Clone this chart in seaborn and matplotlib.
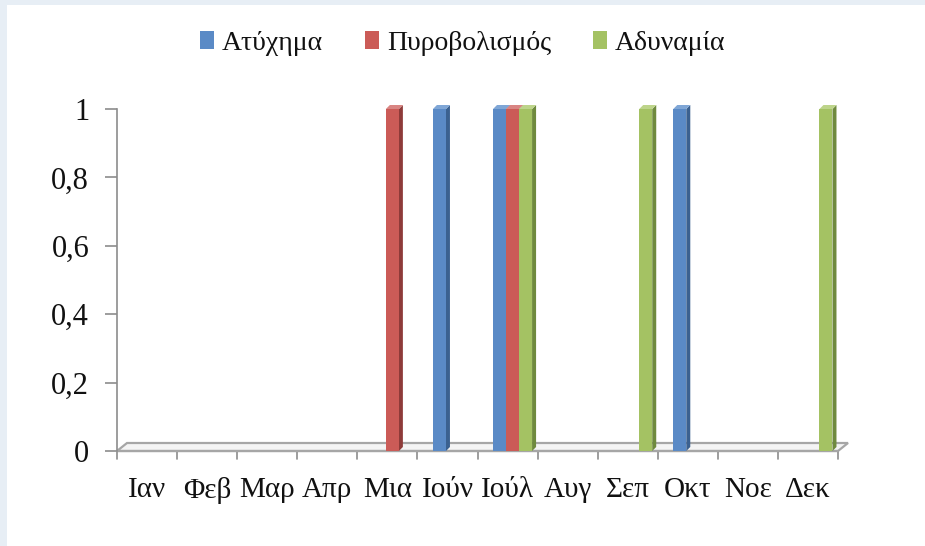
import matplotlib
matplotlib.use("Agg")
import matplotlib.pyplot as plt
from matplotlib.patches import Polygon, Rectangle
from matplotlib.ticker import FixedLocator, FuncFormatter
import seaborn as sns
import pandas as pd

# Monthly incident counts by cause
months = ["Ιαν", "Φεβ", "Μαρ", "Απρ", "Μια", "Ιούν", "Ιούλ", "Αυγ", "Σεπ", "Οκτ", "Νοε", "Δεκ"]
atyxima = [0, 0, 0, 0, 0, 1, 1, 0, 0, 1, 0, 0]
pyrovolismos = [0, 0, 0, 0, 1, 0, 1, 0, 0, 0, 0, 0]
adynamia = [0, 0, 0, 0, 0, 0, 1, 0, 1, 0, 0, 1]
series_names = ["Ατύχημα", "Πυροβολισμός", "Αδυναμία"]
y_ticks = [0, 0.2, 0.4, 0.6, 0.8, 1.0]

front_colors = ["#5A8AC6", "#CB5B57", "#A4C263"]
side_colors = ["#3B6190", "#8E3B39", "#6F8A3E"]
top_colors = ["#7FA6D6", "#D98583", "#BDD48A"]

df = pd.DataFrame({
    "month": months * 3,
    "cause": [s for s, vals in zip(series_names, [atyxima, pyrovolismos, adynamia]) for _ in vals],
    "value": atyxima + pyrovolismos + adynamia,
})

sns.set_style("white")
plt.rcParams["font.family"] = ["Liberation Serif", "DejaVu Serif"]

W, H = 925, 546
fig = plt.figure(figsize=(W / 100, H / 100), dpi=100)
fig.patch.set_facecolor("#E7EEF5")
# white sheet behind the chart
fig.add_artist(Rectangle((7 / W, 0), 1, 1 - 5 / H, transform=fig.transFigure,
                         facecolor="white", edgecolor="none", zorder=0))

ax_left, ax_right, ax_top, ax_bottom = 117, 838, 109, 451
ax = fig.add_axes([ax_left / W, 1 - ax_bottom / H, (ax_right - ax_left) / W, (ax_bottom - ax_top) / H])
ax.set_facecolor("none")

sns.barplot(data=df, x="month", y="value", hue="cause", hue_order=series_names,
            order=months, palette=front_colors, width=0.65, saturation=1,
            ax=ax, legend=False, edgecolor="none", linewidth=0, zorder=3)

ax.set_ylim(0, 1)
ax.set_xlim(-0.5, len(months) - 0.5)

# pseudo-3D depth, in data units
px_x = (len(months)) / (ax_right - ax_left)
px_y = 1.0 / (ax_bottom - ax_top)
dx, dy = 4 * px_x, 4 * px_y
shift = 5 * px_x

for i, container in enumerate(ax.containers):
    for bar in container:
        bar.set_x(bar.get_x() + shift)
        h = bar.get_height()
        if h <= 0:
            bar.set_visible(False)
            continue
        x0, w = bar.get_x(), bar.get_width()
        ax.add_patch(Polygon([(x0 + w, 0), (x0 + w + dx, dy), (x0 + w + dx, h + dy), (x0 + w, h)],
                             closed=True, facecolor=side_colors[i], edgecolor="none", zorder=2.8, clip_on=False))
        ax.add_patch(Polygon([(x0, h), (x0 + dx, h + dy), (x0 + w + dx, h + dy), (x0 + w, h)],
                             closed=True, facecolor=top_colors[i], edgecolor="none", zorder=2.9, clip_on=False))

# floor
fdx, fdy = 10 * px_x, 8 * px_y
x_lo, x_hi = -0.5, len(months) - 0.5
ax.add_patch(Polygon([(x_lo, 0), (x_lo + fdx, fdy), (x_hi + fdx, fdy), (x_hi, 0)], closed=True,
                     facecolor="#F4F4F4", edgecolor="#A6A6A6", linewidth=1.6, zorder=2, clip_on=False))

for side in ["top", "right", "bottom"]:
    ax.spines[side].set_visible(False)
ax.spines["left"].set_color("#8C8C8C")
ax.spines["left"].set_linewidth(1.2)

ax.yaxis.set_major_locator(FixedLocator(y_ticks))
ax.yaxis.set_major_formatter(FuncFormatter(lambda v, _: ("%g" % round(v, 1)).replace(".", ",")))
ax.tick_params(axis="y", left=True, length=9, width=1.2, color="#8C8C8C", labelsize=22, pad=11,
               labelcolor="#111111")

ax.set_xticks(range(len(months)))
ax.set_xticklabels(months)
ax.set_xlabel("")
ax.set_ylabel("")
ax.tick_params(axis="x", bottom=False, labelsize=21, pad=15, labelcolor="#111111")
# category separators below the floor
for b in range(len(months) + 1):
    ax.plot([b - 0.5, b - 0.5], [0, -8 * px_y], color="#8C8C8C", lw=1.2, clip_on=False, zorder=2)
ax.plot([x_lo, x_hi], [0, 0], color="#A6A6A6", lw=1.6, clip_on=False, zorder=2)

handles = [Rectangle((0, 0), 1, 1, facecolor=c, edgecolor="none") for c in front_colors]
leg = fig.legend(handles, series_names, loc="center", bbox_to_anchor=(0.5, 1 - 43 / H), ncol=3,
                 frameon=False, fontsize=20, handlelength=0.5, handleheight=0.6, handletextpad=0.3,
                 columnspacing=1.5)
for t in leg.get_texts():
    t.set_color("#111111")

fig.savefig("out.png", dpi=100, facecolor=fig.get_facecolor())
